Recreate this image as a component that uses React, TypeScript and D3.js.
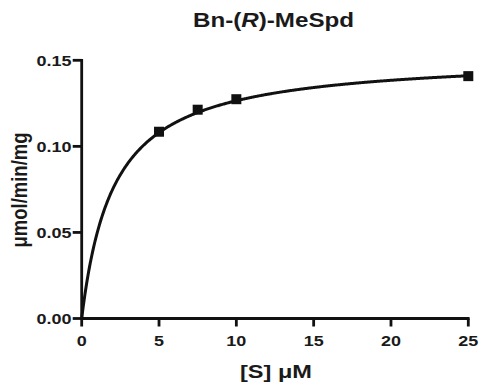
import React from "react";
import * as d3 from "d3";

const title = "Bn-(R)-MeSpd";
const xTicks = [0, 5, 10, 15, 20, 25];
const yTicks = [0, 0.05, 0.1, 0.15];
const yTickLabels = ["0.00", "0.05", "0.10", "0.15"];
const substrate = [5, 7.5, 10, 25];
const rate = [0.1085, 0.1213, 0.1274, 0.1408];
// Michaelis-Menten fit parameters (fitted curve)
const vmax = 0.1527;
const km = 2.07;

const W = 482;
const H = 392;
const SX = 1.24;

export default function App() {
  const x = d3.scaleLinear().domain([0, 25]).range([81.7, 468.3]);
  const y = d3.scaleLinear().domain([0, 0.15]).range([318.5, 60.3]);
  const fitX = d3.range(0, 25.001, 0.05);
  const line = d3
    .line<number>()
    .x((s) => x(s))
    .y((s) => y((vmax * s) / (km + s)))
    .curve(d3.curveLinear);
  const font = "Liberation Sans, Arial, Helvetica, sans-serif";
  const S = (tx: number, ty: number) => `translate(${tx},${ty}) scale(${SX},1)`;
  return (
    <svg
      width={W}
      height={H}
      style={{ position: "absolute", left: 0, top: 0, background: "#fff" }}
      fontFamily={font}
      fontWeight="bold"
    >
      <g transform={S(273.5, 26.7)}>
        <text fontSize={19.5} textAnchor="middle" fill="#1a1a1a">
          Bn-(<tspan fontStyle="italic">R</tspan>)-MeSpd
        </text>
      </g>
      {/* axes */}
      <line x1={x(0)} x2={x(25) + 1.3} y1={y(0)} y2={y(0)} stroke="#111" strokeWidth={2.8} />
      <line x1={x(0)} x2={x(0)} y1={y(0) + 1.3} y2={y(0.15) - 1.3} stroke="#111" strokeWidth={2.8} />
      {xTicks.map((t) => (
        <g key={"x" + t}>
          <line x1={x(t)} x2={x(t)} y1={y(0)} y2={y(0) + 8} stroke="#111" strokeWidth={2.8} />
          <g transform={S(x(t), 345.5)}>
            <text fontSize={14.5} textAnchor="middle" fill="#1a1a1a">
              {t}
            </text>
          </g>
        </g>
      ))}
      {yTicks.map((t, i) => (
        <g key={"y" + t}>
          <line x1={x(0) - 9} x2={x(0)} y1={y(t)} y2={y(t)} stroke="#111" strokeWidth={2.8} />
          <g transform={S(71.5, y(t) + 5.3)}>
            <text fontSize={14.5} textAnchor="end" fill="#1a1a1a">
              {yTickLabels[i]}
            </text>
          </g>
        </g>
      ))}
      <g transform={`translate(27,190) scale(${SX},1) rotate(-90)`}>
        <text fontSize={18.5} textAnchor="middle" fill="#1a1a1a">
          μmol/min/mg
        </text>
      </g>
      <g transform={S(276, 377.7)}>
        <text fontSize={19} textAnchor="middle" fill="#1a1a1a">
          [S] μM
        </text>
      </g>
      <path d={line(fitX) || ""} fill="none" stroke="#111" strokeWidth={3} />
      {substrate.map((s, i) => (
        <rect
          key={"p" + i}
          x={x(s) - 5}
          y={y(rate[i]) - 5}
          width={10}
          height={10}
          fill="#111"
        />
      ))}
    </svg>
  );
}
